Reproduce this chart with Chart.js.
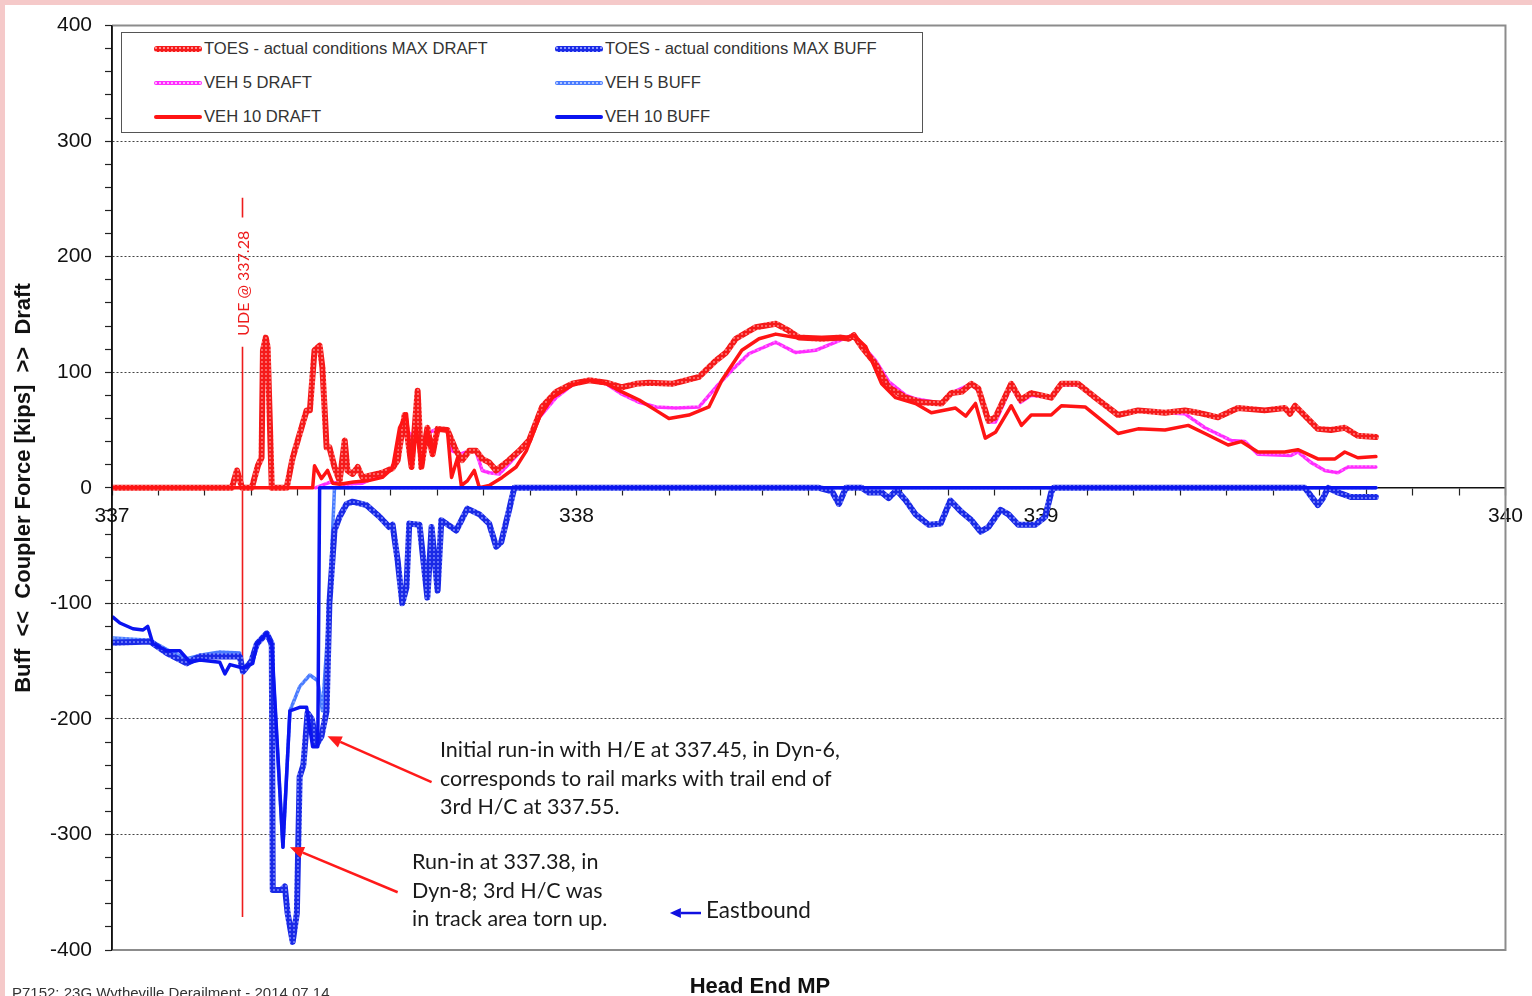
<!DOCTYPE html>
<html>
<head>
<meta charset="utf-8">
<title>Coupler Force vs Head End MP</title>
<script src="https://cdn.jsdelivr.net/npm/chart.js@4/dist/chart.umd.min.js"></script>
<style>
  html, body { margin: 0; padding: 0; }
  body { width: 1532px; height: 996px; overflow: hidden; background: #fff; position: relative;
         font-family: "Liberation Sans", Arial, sans-serif; }
  #band-top { position: absolute; left: 0; top: 0; width: 1532px; height: 5px; background: #f5c9c9; }
  #band-left { position: absolute; left: 0; top: 0; width: 5px; height: 996px; background: #f5c9c9; }
  #chart { position: absolute; left: 0; top: 0; }
  .legend { position: absolute; left: 121px; top: 32px; width: 802px; height: 101px;
            border: 1.5px solid #555; background: #fff; box-sizing: border-box; }
  .lg-item { position: absolute; height: 20px; font-size: 16.6px; color: #333; white-space: nowrap; }
  .lg-line { position: absolute; left: 0; width: 48px; }
  .lg-text { position: absolute; left: 50px; top: 0; line-height: 20px; }
  .note { position: absolute; font-family: Lato, "Open Sans", sans-serif; font-size: 21.5px;
          line-height: 28.5px; color: #1a1a1a; white-space: nowrap; }
  .axis-title { position: absolute; font-weight: bold; font-size: 22px; line-height: 22px;
                color: #111; white-space: pre; text-align: center; }
  .footer { position: absolute; left: 12px; top: 985px; font-size: 15px; line-height: 15px;
            color: #333; white-space: nowrap; }
</style>
</head>
<body>
<div id="band-top"></div>
<div id="band-left"></div>
<canvas id="chart" width="1532" height="996"></canvas>
<div class="legend" id="legend"></div>
<div class="note" style="left:440px; top:735px;">Initial run-in with H/E at 337.45, in Dyn-6,<br>corresponds to rail marks with trail end of<br>3rd H/C at 337.55.</div>
<div class="note" style="left:412px; top:847px;">Run-in at 337.38, in<br>Dyn-8; 3rd H/C was<br>in track area torn up.</div>
<div class="note" style="left:706px; top:896px; font-size:22.5px;">Eastbound</div>
<div class="axis-title" style="left:660px; top:975px; width:200px;">Head End MP</div>
<div class="axis-title" style="left:-227px; top:477px; width:500px; transform: rotate(-90deg);">Buff  &lt;&lt;  Coupler Force [kips]  &gt;&gt;  Draft</div>
<div class="footer">P7152: 23G Wytheville Derailment - 2014.07.14</div>

<script>
// ---- Tick labels ----
const xTickLabels = [337, 338, 339, 340];
const yTickLabels = [-400, -300, -200, -100, 0, 100, 200, 300, 400];

// ---- TOES - actual conditions MAX DRAFT ----
const toesDraftMP = [337.000, 337.258, 337.269, 337.280, 337.301, 337.314, 337.322, 337.325, 337.331, 337.335,
  337.344, 337.376, 337.389, 337.408, 337.419, 337.426, 337.436, 337.447, 337.453, 337.462,
  337.468, 337.479, 337.490, 337.501, 337.507, 337.518, 337.529, 337.539, 337.582, 337.604,
  337.615, 337.630, 337.645, 337.658, 337.666, 337.679, 337.690, 337.701, 337.722, 337.741,
  337.754, 337.769, 337.784, 337.797, 337.812, 337.827, 337.849, 337.877, 337.898, 337.926,
  337.956, 337.991, 338.027, 338.064, 338.098, 338.128, 338.156, 338.206, 338.264, 338.300,
  338.322, 338.343, 338.386, 338.429, 338.457, 338.479, 338.528, 338.571, 338.586, 338.597,
  338.614, 338.644, 338.672, 338.709, 338.743, 338.786, 338.807, 338.829, 338.850, 338.865,
  338.887, 338.902, 338.936, 338.956, 338.979, 339.022, 339.044, 339.080, 339.117, 339.166,
  339.209, 339.267, 339.310, 339.338, 339.381, 339.424, 339.482, 339.525, 339.536, 339.547,
  339.596, 339.624, 339.654, 339.682, 339.721];
const toesDraftKips = [0, 0, 15, 0, 0, 19, 26, 119, 130, 122,
  0, 0, 26, 52, 67, 67, 119, 123, 104, 35,
  35, 18, 6, 41, 15, 12, 18, 9, 13, 17,
  24, 63, 18, 84, 18, 52, 29, 51, 50, 32,
  24, 32, 32, 25, 22, 15, 22, 32, 41, 70,
  83, 90, 93, 91, 87, 90, 91, 90, 96, 110,
  117, 129, 139, 142, 136, 130, 129, 130, 129, 132,
  122, 107, 87, 78, 74, 73, 82, 83, 90, 86,
  58, 61, 90, 76, 82, 78, 90, 90, 78, 63,
  67, 65, 67, 65, 61, 69, 67, 69, 64, 71,
  51, 50, 52, 45, 44];

// ---- VEH 5 DRAFT ----
const veh5DraftMP = [337.438, 337.470, 337.500, 337.539, 337.582, 337.604, 337.619, 337.630, 337.645, 337.658,
  337.668, 337.683, 337.701, 337.722, 337.733, 337.748, 337.769, 337.784, 337.797, 337.812,
  337.834, 337.862, 337.892, 337.920, 337.956, 337.991, 338.027, 338.064, 338.098, 338.135,
  338.171, 338.214, 338.264, 338.300, 338.335, 338.371, 338.429, 338.472, 338.515, 338.558,
  338.593, 338.614, 338.644, 338.672, 338.709, 338.730, 338.786, 338.807, 338.850, 338.865,
  338.887, 338.902, 338.936, 338.956, 338.979, 339.022, 339.044, 339.080, 339.117, 339.166,
  339.209, 339.267, 339.310, 339.353, 339.409, 339.439, 339.467, 339.538, 339.553, 339.581,
  339.611, 339.639, 339.661, 339.721];
const veh5DraftKips = [0, 5, 3, 4, 12, 17, 41, 52, 45, 52,
  41, 48, 51, 50, 32, 29, 32, 31, 15, 13,
  12, 24, 37, 61, 78, 89, 93, 90, 81, 74,
  70, 69, 70, 87, 102, 116, 126, 117, 119, 126,
  132, 124, 110, 92, 80, 77, 73, 82, 90, 84,
  57, 57, 88, 74, 80, 78, 89, 89, 78, 63,
  67, 65, 64, 52, 41, 40, 29, 28, 31, 22,
  15, 13, 18, 18];

// ---- VEH 10 DRAFT ----
const veh10DraftMP = [337.000, 337.432, 337.436, 337.451, 337.464, 337.475, 337.490, 337.520, 337.550, 337.582,
  337.604, 337.619, 337.634, 337.645, 337.655, 337.666, 337.679, 337.690, 337.701, 337.722,
  337.731, 337.744, 337.752, 337.765, 337.780, 337.791, 337.812, 337.840, 337.870, 337.892,
  337.920, 337.948, 337.991, 338.027, 338.064, 338.098, 338.135, 338.171, 338.199, 338.242,
  338.285, 338.313, 338.356, 338.393, 338.429, 338.472, 338.528, 338.580, 338.597, 338.623,
  338.657, 338.687, 338.730, 338.764, 338.816, 338.838, 338.859, 338.880, 338.902, 338.936,
  338.958, 338.979, 339.022, 339.044, 339.095, 339.123, 339.166, 339.209, 339.267, 339.317,
  339.353, 339.403, 339.431, 339.467, 339.525, 339.553, 339.596, 339.633, 339.654, 339.682,
  339.721];
const veh10DraftKips = [0, 0, 19, 8, 15, 4, 3, 5, 6, 9,
  17, 52, 64, 17, 52, 18, 51, 29, 50, 50,
  9, 26, 2, 6, 15, 0, 2, 9, 18, 32,
  61, 78, 89, 93, 90, 83, 76, 67, 60, 63,
  70, 93, 119, 129, 133, 130, 130, 130, 132, 122,
  90, 78, 73, 65, 69, 62, 73, 43, 48, 71,
  54, 63, 63, 71, 70, 61, 47, 51, 50, 54,
  47, 37, 40, 31, 31, 33, 25, 25, 31, 26,
  27];

// ---- TOES - actual conditions MAX BUFF ----
const toesBuffMP = [337.002, 337.082, 337.118, 337.161, 337.189, 337.217, 337.247, 337.275, 337.282, 337.300,
  337.312, 337.333, 337.344, 337.346, 337.365, 337.372, 337.378, 337.389, 337.398, 337.404,
  337.412, 337.421, 337.430, 337.441, 337.451, 337.462, 337.468, 337.479, 337.490, 337.505,
  337.518, 337.548, 337.576, 337.597, 337.604, 337.615, 337.625, 337.634, 337.640, 337.662,
  337.679, 337.688, 337.701, 337.709, 337.741, 337.765, 337.791, 337.812, 337.827, 337.838,
  337.855, 337.866, 338.522, 338.550, 338.565, 338.580, 338.614, 338.629, 338.657, 338.672,
  338.689, 338.709, 338.730, 338.758, 338.784, 338.805, 338.829, 338.850, 338.870, 338.887,
  338.913, 338.930, 338.951, 338.988, 339.009, 339.022, 339.027, 339.568, 339.596, 339.607,
  339.618, 339.639, 339.667, 339.721];
const toesBuffKips = [-134, -133, -143, -152, -146, -146, -146, -146, -159, -150,
  -135, -126, -135, -348, -348, -345, -368, -393, -368, -250,
  -240, -195, -200, -222, -215, -193, -100, -37, -25, -14,
  -12, -15, -25, -34, -32, -63, -100, -86, -31, -32,
  -95, -34, -89, -28, -37, -18, -23, -31, -51, -47,
  -19, 0, 0, -3, -14, 0, 0, -4, -4, -9,
  -2, -11, -23, -32, -31, -11, -21, -28, -38, -34,
  -19, -23, -32, -32, -25, -4, 0, 0, -15, -9,
  0, -4, -8, -8];

// ---- VEH 5 BUFF ----
const veh5BuffMP = [337.002, 337.082, 337.118, 337.161, 337.189, 337.232, 337.275, 337.282, 337.300, 337.312,
  337.333, 337.344, 337.368, 337.383, 337.404, 337.426, 337.443, 337.453, 337.468, 337.475,
  337.479, 339.721];
const veh5BuffKips = [-130, -132, -140, -148, -145, -142, -143, -157, -150, -136,
  -126, -140, -311, -193, -172, -162, -167, -193, -103, -37,
  0, 0];

// ---- VEH 10 BUFF ----
const veh10BuffMP = [337.002, 337.017, 337.045, 337.067, 337.077, 337.088, 337.118, 337.146, 337.168, 337.189,
  337.232, 337.243, 337.254, 337.282, 337.303, 337.312, 337.333, 337.344, 337.368, 337.383,
  337.404, 337.419, 337.432, 337.443, 337.447, 339.721];
const veh10BuffKips = [-112, -117, -122, -123, -120, -135, -141, -141, -151, -149,
  -151, -161, -153, -156, -152, -135, -126, -135, -311, -193,
  -190, -190, -224, -224, 0, 0];

// ---- helpers ----
function pairs(xs, ys) { return xs.map((x, i) => ({ x: x, y: ys[i] })); }

// beaded texture used for the heavy/marker-style traces
function stipple(base, dot, size, r) {
  const c = document.createElement('canvas');
  c.width = size; c.height = size;
  const g = c.getContext('2d');
  g.fillStyle = base; g.fillRect(0, 0, size, size);
  g.fillStyle = dot; g.beginPath(); g.arc(size / 2, size / 2, r, 0, Math.PI * 2); g.fill();
  return g.createPattern(c, 'repeat');
}

const RED = '#ff1414';
const BLUE = '#0a14f0';
const redBead = stipple('#f51a1a', '#ff8c8c', 4, 0.9);
const blueBead = stipple('#1a2ae6', '#8a96ff', 4, 0.9);
const magentaBead = stipple('#ff2cff', '#ffb0ff', 4, 0.8);
const lightBlueBead = stipple('#4a7cff', '#b0c6ff', 4, 0.8);

const series = [
  { label: 'TOES - actual conditions MAX DRAFT', mp: toesDraftMP, kips: toesDraftKips, color: redBead, width: 6, order: 5, swatch: 'bead-red' },
  { label: 'TOES - actual conditions MAX BUFF', mp: toesBuffMP, kips: toesBuffKips, color: blueBead, width: 6, order: 2, swatch: 'bead-blue' },
  { label: 'VEH 5 DRAFT', mp: veh5DraftMP, kips: veh5DraftKips, color: magentaBead, width: 3.5, order: 6, swatch: 'bead-magenta' },
  { label: 'VEH 5 BUFF', mp: veh5BuffMP, kips: veh5BuffKips, color: lightBlueBead, width: 3.5, order: 3, swatch: 'bead-lightblue' },
  { label: 'VEH 10 DRAFT', mp: veh10DraftMP, kips: veh10DraftKips, color: RED, width: 3.5, order: 4, swatch: 'solid-red' },
  { label: 'VEH 10 BUFF', mp: veh10BuffMP, kips: veh10BuffKips, color: BLUE, width: 3.5, order: 1, swatch: 'solid-blue' }
];

// ---- plot frame, UDE marker and callout arrows ----
function drawArrow(ctx, x1, y1, x2, y2, color, width, headLen, headHalf) {
  const ang = Math.atan2(y2 - y1, x2 - x1);
  const bx = x2 - Math.cos(ang) * headLen, by = y2 - Math.sin(ang) * headLen;
  ctx.save();
  ctx.strokeStyle = color; ctx.fillStyle = color; ctx.lineWidth = width;
  ctx.beginPath(); ctx.moveTo(x1, y1); ctx.lineTo(bx, by); ctx.stroke();
  ctx.beginPath();
  ctx.moveTo(x2, y2);
  ctx.lineTo(bx + Math.sin(ang) * headHalf, by - Math.cos(ang) * headHalf);
  ctx.lineTo(bx - Math.sin(ang) * headHalf, by + Math.cos(ang) * headHalf);
  ctx.closePath(); ctx.fill();
  ctx.restore();
}

const overlayPlugin = {
  id: 'overlay',
  beforeDatasetsDraw(chart) {
    const { ctx, scales: { x, y } } = chart;
    // UDE marker line at MP 337.28
    const ux = Math.round(x.getPixelForValue(337.28)) + 0.5;
    ctx.save();
    ctx.strokeStyle = '#ee1c1c'; ctx.lineWidth = 1.6;
    ctx.beginPath();
    ctx.moveTo(ux, y.getPixelForValue(251)); ctx.lineTo(ux, y.getPixelForValue(234));
    ctx.moveTo(ux, y.getPixelForValue(122)); ctx.lineTo(ux, y.getPixelForValue(-371.5));
    ctx.stroke();
    ctx.translate(ux + 1, y.getPixelForValue(177));
    ctx.rotate(-Math.PI / 2);
    ctx.fillStyle = '#ee1c1c';
    ctx.font = '16px Lato, sans-serif';
    ctx.textAlign = 'center'; ctx.textBaseline = 'middle';
    ctx.fillText('UDE @ 337.28', 0, 0);
    ctx.restore();
  },
  afterDraw(chart) {
    const { ctx, chartArea: a, scales: { x, y } } = chart;
    ctx.save();
    ctx.strokeStyle = '#8c8c8c'; ctx.lineWidth = 2;
    ctx.beginPath();
    ctx.moveTo(a.left, a.top); ctx.lineTo(a.right, a.top);
    ctx.lineTo(a.right, a.bottom); ctx.lineTo(a.left, a.bottom);
    ctx.stroke();
    ctx.strokeStyle = '#111'; ctx.lineWidth = 1.5;
    ctx.beginPath(); ctx.moveTo(a.left, a.top); ctx.lineTo(a.left, a.bottom); ctx.stroke();
    ctx.restore();
    // callouts
    drawArrow(ctx, x.getPixelForValue(337.688), y.getPixelForValue(-254.8),
      x.getPixelForValue(337.464), y.getPixelForValue(-215), '#ff1a1a', 2.5, 14, 6);
    drawArrow(ctx, x.getPixelForValue(337.615), y.getPixelForValue(-350),
      x.getPixelForValue(337.383), y.getPixelForValue(-311), '#ff1a1a', 2.5, 14, 6);
    drawArrow(ctx, x.getPixelForValue(338.268), y.getPixelForValue(-368),
      x.getPixelForValue(338.201), y.getPixelForValue(-368), '#1010e0', 2.5, 11, 5);
  }
};

const isLabelled = (list, v) => list.some(t => Math.abs(t - v) < 1e-6);

const chart = new Chart(document.getElementById('chart'), {
  type: 'line',
  data: {
    datasets: series.map(s => ({
      label: s.label,
      data: pairs(s.mp, s.kips),
      borderColor: s.color,
      backgroundColor: s.color,
      borderWidth: s.width,
      pointRadius: 0,
      tension: 0,
      fill: false,
      order: s.order,
      borderJoinStyle: 'round',
      borderCapStyle: 'round'
    }))
  },
  options: {
    responsive: false,
    animation: false,
    devicePixelRatio: 1,
    layout: { padding: { top: 25, right: 24, bottom: 46, left: 0 } },
    plugins: { legend: { display: false }, tooltip: { enabled: false } },
    scales: {
      x: {
        type: 'linear',
        position: { y: 0 },
        min: 337, max: 340,
        afterFit(scale) { scale.height = 0; },
        ticks: {
          stepSize: 0.1, autoSkip: false, maxRotation: 0, padding: 9,
          color: '#111', font: { family: 'Liberation Sans', size: 21 },
          callback: (v) => isLabelled(xTickLabels, v) ? String(Math.round(v)) : ''
        },
        grid: { drawOnChartArea: false, drawTicks: true, tickLength: 7, tickColor: '#222', tickWidth: 1.2 },
        border: { display: true, color: '#111', width: 1.5 }
      },
      y: {
        type: 'linear',
        min: -400, max: 400,
        afterFit(scale) { scale.width = 112; },
        ticks: {
          stepSize: 20, autoSkip: false, padding: 13,
          color: '#111', font: { family: 'Liberation Sans', size: 21 },
          callback: (v) => isLabelled(yTickLabels, v) ? String(Math.round(v)) : ''
        },
        grid: {
          drawTicks: true, tickLength: 7, tickColor: '#222', tickWidth: 1.2,
          lineWidth: 1,
          color: (c) => (c.tick && isLabelled(yTickLabels, c.tick.value) && Math.abs(c.tick.value) < 400) ? '#444' : 'rgba(0,0,0,0)'
        },
        border: { display: true, color: '#111', width: 1.5, dash: [2, 2] }
      }
    }
  },
  plugins: [overlayPlugin]
});

// ---- legend box, laid out in two columns ----
const swatchCss = {
  'bead-red': 'height:6px; background: radial-gradient(circle, #ff8c8c 0.9px, transparent 1.3px) 0 0/4px 4px, #f51a1a;',
  'bead-blue': 'height:6px; background: radial-gradient(circle, #8a96ff 0.9px, transparent 1.3px) 0 0/4px 4px, #1a2ae6;',
  'bead-magenta': 'height:4px; background: radial-gradient(circle, #ffb0ff 0.8px, transparent 1.2px) 0 0/4px 4px, #ff2cff;',
  'bead-lightblue': 'height:4px; background: radial-gradient(circle, #b0c6ff 0.8px, transparent 1.2px) 0 0/4px 4px, #4a7cff;',
  'solid-red': 'height:4px; background:' + RED + ';',
  'solid-blue': 'height:4px; background:' + BLUE + ';'
};
const legendEl = document.getElementById('legend');
series.forEach((s, i) => {
  const col = i % 2, row = Math.floor(i / 2);
  const item = document.createElement('div');
  item.className = 'lg-item';
  item.style.left = (col === 0 ? 32 : 433) + 'px';
  item.style.top = (6 + row * 34) + 'px';
  const line = document.createElement('div');
  line.className = 'lg-line';
  line.style.cssText += swatchCss[s.swatch] + 'top:' + (s.width > 5 ? 7 : 8) + 'px; border-radius:3px;';
  const txt = document.createElement('div');
  txt.className = 'lg-text';
  txt.textContent = s.label;
  item.appendChild(line); item.appendChild(txt);
  legendEl.appendChild(item);
});
</script>
</body>
</html>
